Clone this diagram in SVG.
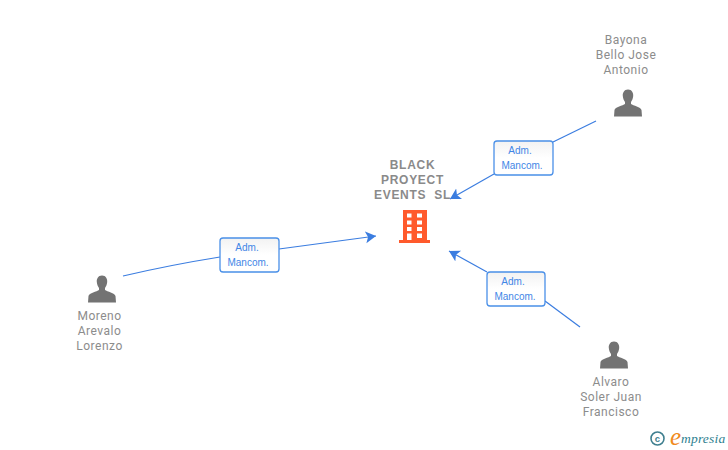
<svg xmlns="http://www.w3.org/2000/svg" width="728" height="450" viewBox="0 0 728 450">
<defs>
<linearGradient id="lg" x1="0" y1="0" x2="0" y2="1"><stop offset="0" stop-color="#f2f2f2"/><stop offset="0.5" stop-color="#ffffff"/></linearGradient>
<marker id="arr" markerUnits="userSpaceOnUse" markerWidth="13" markerHeight="14" refX="10.500" refY="6" orient="auto"><path d="M0,0 L10.500,6 L0,12 L2.500,6 Z" fill="#3b7de0"/></marker>
<path id="person" d="M0,-14.500 C-4,-14.500 -5.500,-11 -5.200,-8 C-5,-5.500 -4,-3.500 -3,-2 L-3,0 C-5,1.500 -13,3 -13.500,6 L-14,12.500 L14,12.500 L13.500,6 C13,3 5,1.500 3,0 L3,-2 C4,-3.500 5,-5.500 5.200,-8 C5.500,-11 4,-14.500 0,-14.500 Z" fill="#737373"/>
</defs>
<style>
.l{font-family:Roboto,"Liberation Sans",Arial,sans-serif;font-size:12px;fill:#8c8c8c;text-anchor:middle;letter-spacing:.5px}
.b{font-family:"Liberation Sans",Arial,sans-serif;font-size:12px;font-weight:bold;fill:#8a8a8a;text-anchor:middle;letter-spacing:.7px}
.t{font-family:"Liberation Sans",Arial,sans-serif;font-size:10px;fill:#3f86e6;text-anchor:middle}
.c{fill:none;stroke:#3b7de0;stroke-width:1.200}
.box{fill:url(#lg);stroke:#4a90e8;stroke-width:1.300}
</style>
<g id="connectors">
<path class="c" d="M596,121 L553,142"/>
<path class="c" d="M494,174 L450,199" marker-end="url(#arr)"/>
<path class="c" d="M123,276 Q170,265 220,257"/>
<path class="c" d="M279,249 L376,236" marker-end="url(#arr)"/>
<path class="c" d="M580,327 L545,301"/>
<path class="c" d="M487,272 L449,251" marker-end="url(#arr)"/>
</g>
<g id="node-company">
<text class="b" x="412.500" y="169">BLACK</text>
<text class="b" x="412.500" y="184">PROYECT</text>
<text class="b" x="412.500" y="199" word-spacing="4">EVENTS SL</text>
<path fill="#ff5a2c" fill-rule="evenodd" d="M403,210 H427 V240 H430 V243 H399 V240 H403 Z M407,213.500 V217.500 H411.500 V213.500 Z M417,213.500 V217.500 H422 V213.500 Z M407,220.500 V224.500 H411.500 V220.500 Z M417,220.500 V224.500 H422 V220.500 Z M407,227 V231 H411.500 V227 Z M417,227 V231 H422 V227 Z M407,233.500 V240 H411.500 V233.500 Z M417,233.500 V238 H422 V233.500 Z"/>
</g>
<g id="node-bayona">
<text class="l" x="626" y="44">Bayona</text>
<text class="l" x="626" y="59">Bello Jose</text>
<text class="l" x="626" y="74">Antonio</text>
<use href="#person" x="628" y="104"/>
</g>
<g id="node-moreno">
<use href="#person" x="102" y="290"/>
<text class="l" x="99.500" y="320">Moreno</text>
<text class="l" x="99.500" y="335">Arevalo</text>
<text class="l" x="99.500" y="350">Lorenzo</text>
</g>
<g id="node-alvaro">
<use href="#person" x="614" y="356"/>
<text class="l" x="611" y="386">Alvaro</text>
<text class="l" x="611" y="401">Soler Juan</text>
<text class="l" x="611" y="416">Francisco</text>
</g>
<g id="label-1">
<rect class="box" x="494" y="141" width="59" height="34" rx="3"/>
<text class="t" x="520" y="154">Adm.</text>
<text class="t" x="522" y="169">Mancom.</text>
</g>
<g id="label-2">
<rect class="box" x="220" y="238" width="59" height="34" rx="3"/>
<text class="t" x="247" y="251">Adm.</text>
<text class="t" x="248" y="266">Mancom.</text>
</g>
<g id="label-3">
<rect class="box" x="487" y="272" width="58" height="34" rx="3"/>
<text class="t" x="513" y="285">Adm.</text>
<text class="t" x="515" y="300">Mancom.</text>
</g>
<g id="logo">
<circle cx="657.500" cy="438.500" r="6.500" fill="none" stroke="#3f7f8f" stroke-width="1.600"/>
<text x="657.500" y="441.500" font-family="Liberation Sans,sans-serif" font-size="9.500" font-weight="bold" fill="#3f7f8f" text-anchor="middle">c</text>
<text x="670" y="445" font-family="Liberation Serif,serif" font-size="25" font-style="italic" fill="#f08a1d">e</text>
<text x="681" y="443" font-family="Liberation Serif,serif" font-size="13.500" font-style="italic" fill="#2e7f8f" letter-spacing=".2">mpresia</text>
</g>
</svg>
